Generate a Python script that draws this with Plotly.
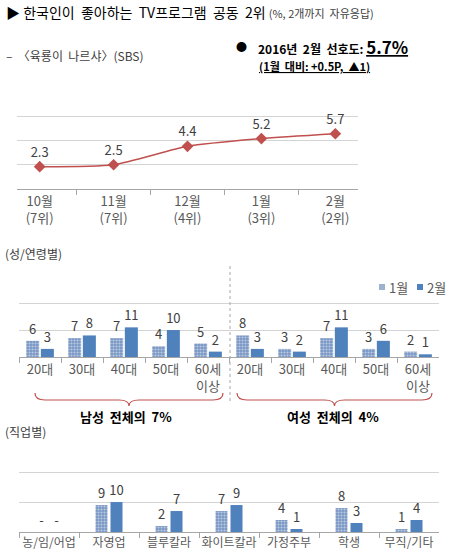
import plotly.graph_objects as go

W, H = 449, 560

# ---------------- data ----------------
months = ["10월<br>(7위)", "11월<br>(7위)", "12월<br>(4위)", "1월<br>(3위)", "2월<br>(2위)"]
trend = [2.3, 2.5, 4.4, 5.2, 5.7]

age_groups = ["20대", "30대", "40대", "50대", "60세<br>이상"]
male_jan = [6, 7, 7, 4, 5]
male_feb = [3, 8, 11, 10, 2]
female_jan = [8, 3, 7, 3, 2]
female_feb = [3, 2, 11, 6, 1]

jobs = ["농/임/어업", "자영업", "블루칼라", "화이트칼라", "가정주부", "학생", "무직/기타"]
job_jan = [0, 9, 2, 7, 4, 8, 1]
job_feb = [0, 10, 7, 9, 1, 3, 4]
job_jan_text = ["-", "9", "2", "7", "4", "8", "1"]
job_feb_text = ["-", "10", "7", "9", "1", "3", "4"]

# ---------------- helpers ----------------
def px(x):
    return x / W

def py(y):
    return 1 - y / H

FONT = "Noto Sans CJK KR"
BLUE = "#4F81BD"
RED = "#C0504D"
LBL = "#404040"

fig = go.Figure()

# line chart
fig.add_trace(go.Scatter(
    x=months, y=trend, mode="lines+markers+text",
    text=[f"{v:.1f}" for v in trend], textposition="top center",
    textfont=dict(size=13, color=LBL, family=FONT),
    line=dict(color=RED, width=1.5, shape="spline", smoothing=0.6),
    marker=dict(symbol="diamond", size=9, color=RED),
    xaxis="x", yaxis="y", showlegend=False, cliponaxis=False,
))

# gender / age chart
cats2 = [f"M{i}" for i in range(5)] + [f"F{i}" for i in range(5)]
jan2 = male_jan + female_jan
feb2 = male_feb + female_feb
pattern = dict(shape=".", fgcolor="white", bgcolor="#7896C4", size=3, solidity=0.4)
tf = dict(size=13, color=LBL, family=FONT)
fig.add_trace(go.Bar(
    x=cats2, y=jan2, name="1월", width=0.31, offset=-0.33,
    marker=dict(color="#7896C4", pattern=pattern, line=dict(width=0)),
    text=[str(v) for v in jan2], textposition="outside", constraintext="none",
    textfont=tf, cliponaxis=False, showlegend=False,
    xaxis="x2", yaxis="y2",
))
fig.add_trace(go.Bar(
    x=cats2, y=feb2, name="2월", width=0.31, offset=0.02,
    marker=dict(color=BLUE, line=dict(width=0)),
    text=[str(v) for v in feb2], textposition="outside", constraintext="none",
    textfont=tf, cliponaxis=False, showlegend=False,
    xaxis="x2", yaxis="y2",
))

# job chart
fig.add_trace(go.Bar(
    x=jobs, y=job_jan, width=0.2, offset=-0.225, showlegend=False,
    marker=dict(color="#7896C4", pattern=pattern, line=dict(width=0)),
    text=job_jan_text, textposition="outside", constraintext="none",
    textfont=tf, cliponaxis=False,
    xaxis="x3", yaxis="y3",
))
fig.add_trace(go.Bar(
    x=jobs, y=job_feb, width=0.2, offset=0.025, showlegend=False,
    marker=dict(color=BLUE, line=dict(width=0)),
    text=job_feb_text, textposition="outside", constraintext="none",
    textfont=tf, cliponaxis=False,
    xaxis="x3", yaxis="y3",
))

xcommon = dict(showline=True, linecolor="#A6A6A6", linewidth=1, ticks="outside",
               tickson="boundaries", ticklen=5, tickcolor="#A6A6A6", tickangle=0,
               automargin=False,
               showgrid=False, zeroline=False, fixedrange=True)
ycommon = dict(showticklabels=False, showline=False, zeroline=False, automargin=False,
               gridcolor="#D4D4D4", gridwidth=1, ticks="", fixedrange=True, showgrid=True)

fig.update_layout(
    width=W, height=H, margin=dict(l=0, r=0, t=0, b=0, autoexpand=False),
    paper_bgcolor="white", plot_bgcolor="white",
    font=dict(family=FONT, color=LBL),
    barmode="group", showlegend=False,
    xaxis=dict(domain=[px(17), px(358)], anchor="y",
               tickfont=dict(size=13, color="#595959", family=FONT), **xcommon),
    yaxis=dict(domain=[py(189), py(92)], range=[0, 10.01], dtick=2.5, anchor="x", **ycommon),
    xaxis2=dict(domain=[px(19), px(439)], anchor="y2", tickvals=cats2,
                ticktext=age_groups + age_groups,
                tickfont=dict(size=13, color="#595959", family=FONT), **xcommon),
    yaxis2=dict(domain=[py(357), py(276)], range=[0, 30.05], dtick=10, anchor="x2", **ycommon),
    xaxis3=dict(domain=[px(19), px(439)], anchor="y3",
                tickfont=dict(size=12, color="#595959", family=FONT), **xcommon),
    yaxis3=dict(domain=[py(532), py(442)], range=[0, 30.05], dtick=10, anchor="x3", **ycommon),
)

ann = []
def add_text(x, y, text, size=13, color="#000000", xanchor="left"):
    ann.append(dict(x=px(x), y=py(y), xref="paper", yref="paper", text=text,
                    showarrow=False, xanchor=xanchor, yanchor="middle",
                    font=dict(size=size, color=color, family=FONT)))

add_text(4, 12, "▶ 한국인이  좋아하는  TV프로그램  공동  2위 "
         "<span style='font-size:11px;color:#404040'>(%, 2개까지  자유응답)</span>", size=14)
add_text(4, 56, "–  〈육룡이  나르샤〉(SBS)", size=12, color="#404040")
add_text(234, 46, "●", size=11)
add_text(256, 46, "<b>2016년  2월  선호도: <span style='font-size:17px'><u>5.7%</u></span></b>", size=12)
add_text(257, 66, "<u><b>(1월  대비: +0.5P,  ▲1)</b></u>", size=11)
add_text(3, 254, "(성/연령별)", size=12, color="#404040")
add_text(3, 431, "(직업별)", size=12, color="#404040")
add_text(126, 416, "<b>남성  전체의  7%</b>", size=13, xanchor="center")
add_text(333, 416, "<b>여성  전체의  4%</b>", size=13, xanchor="center")
# legend (manual)
add_text(387, 287, "1월", size=13, color="#595959")
add_text(425, 287, "2월", size=13, color="#595959")

def brace(x0, x1, y0, yh, ytip):
    xc = (x0 + x1) / 2
    r = 10
    pts = (f"M{px(x0)},{py(y0)} "
           f"Q{px(x0)},{py(yh)} {px(x0 + r)},{py(yh)} "
           f"L{px(xc - r)},{py(yh)} "
           f"Q{px(xc)},{py(yh)} {px(xc)},{py(ytip)} "
           f"Q{px(xc)},{py(yh)} {px(xc + r)},{py(yh)} "
           f"L{px(x1 - r)},{py(yh)} "
           f"Q{px(x1)},{py(yh)} {px(x1)},{py(y0)}")
    return dict(type="path", xref="paper", yref="paper", path=pts,
                line=dict(color=RED, width=1.2))

shapes = [
    brace(35, 223, 393, 400, 406),
    brace(237, 432, 393, 400, 406),
    dict(type="line", xref="paper", yref="paper", x0=px(230), x1=px(230),
         y0=py(266), y1=py(402), line=dict(color="#A6A6A6", width=1, dash="dot")),
    # legend swatches
    dict(type="rect", xref="paper", yref="paper", x0=px(379), x1=px(385),
         y0=py(290), y1=py(284), fillcolor="#9DB2CF", line=dict(width=0)),
    dict(type="rect", xref="paper", yref="paper", x0=px(417), x1=px(423),
         y0=py(290), y1=py(284), fillcolor=BLUE, line=dict(width=0)),
]

fig.update_layout(annotations=ann, shapes=shapes)
fig.write_html("out.html")
